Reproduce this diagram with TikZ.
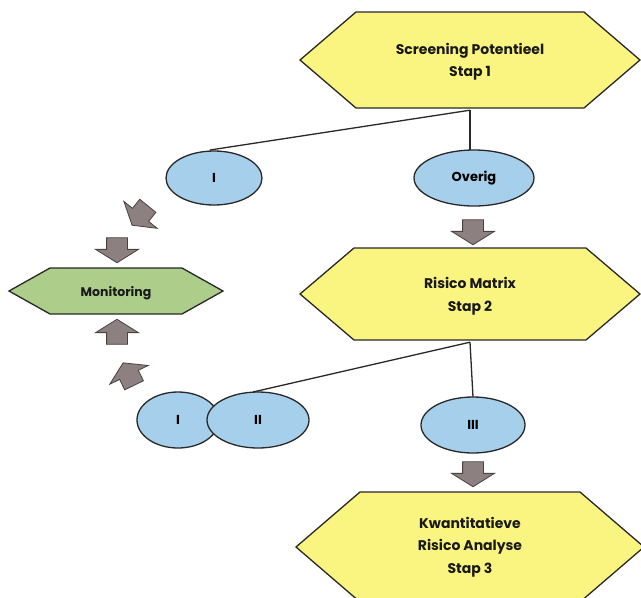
\documentclass[tikz,border=0pt]{standalone}
\usepackage{fontspec}
\setmainfont{Poppins}
\usetikzlibrary{shapes.arrows,shapes.geometric}

\definecolor{stapgeel}{RGB}{250,245,128}
\definecolor{monigroen}{RGB}{172,206,138}
\definecolor{klasseblauw}{RGB}{166,207,236}
\definecolor{pijlgrijs}{RGB}{140,128,128}
\definecolor{pijlrand}{RGB}{75,65,65}
\definecolor{rand}{RGB}{40,40,40}

% hexagon outline: x, y, half width, half height, inset, style
\newcommand{\hexvorm}[6]{%
  \filldraw[#6] ({#1-#3},#2) -- ({#1-#3+#5},{#2-#4}) -- ({#1+#3-#5},{#2-#4})
    -- ({#1+#3},#2) -- ({#1+#3-#5},{#2+#4}) -- ({#1-#3+#5},{#2+#4}) -- cycle;}

\begin{document}
\begin{tikzpicture}[x=1pt, y=-1pt,
    hexrand/.style={draw=rand, line width=1.3pt},
    stapnode/.style={align=center, inner sep=0pt, text=black!90,
      font=\bfseries\fontsize{14}{22.5}\selectfont},
    klasse/.style={ellipse, draw=rand, line width=1.3pt, fill=klasseblauw, inner sep=0pt,
      font=\bfseries\fontsize{13}{15}\selectfont},
    blokpijl/.style={single arrow, draw=pijlrand, fill=pijlgrijs, line width=0.8pt,
      inner sep=0pt, minimum height=25, minimum width=42,
      single arrow head extend=11, single arrow tip angle=116},
    lijn/.style={draw=rand, line width=1.3pt}
    ]
    \path[use as bounding box] (0,0) rectangle (641,598);
    \clip (0,0) rectangle (641,598);

    %Hexagons
    \hexvorm{470}{60}{170}{48}{56}{hexrand, fill=stapgeel}
    \hexvorm{470}{294}{170}{46}{54}{hexrand, fill=stapgeel}
    \hexvorm{470}{547}{174}{55}{64}{hexrand, fill=stapgeel}
    \hexvorm{116}{291}{107}{23}{41}{hexrand, fill=monigroen}

    \node[stapnode, minimum height=96] (stap1) at (470,62) {Screening Potentieel\\Stap 1};
    \node[stapnode, minimum height=92] (stap2) at (470,296) {Risico Matrix\\Stap 2};
    \node[stapnode, minimum height=110] (stap3) at (470,547) {Kwantitatieve\\Risico Analyse\\Stap 3};
    \node[stapnode, font=\bfseries\fontsize{12.5}{15}\selectfont] (moni) at (116,293) {Monitoring};

    %Lines
    \draw[lijn] (stap1.south) -- (470,150);
    \draw[lijn] (stap1.south) -- (210,150);
    \draw[lijn] (stap2.south) -- (473,397);
    \draw[lijn] (stap2.south) -- (253,392);

    %Ellipses
    \node[klasse, minimum width=96, minimum height=54] (een) at (214,178) {I};
    \node[klasse, minimum width=120, minimum height=56] (overig) at (474,178) {Overig};
    \node[klasse, minimum width=82, minimum height=56] (eenb) at (178,420) {I};
    \node[klasse, minimum width=102, minimum height=56] (twee) at (258,420) {II};
    \node[klasse, minimum width=104, minimum height=56] (drie) at (473,425) {III};

    %Block arrows
    \node[blokpijl, rotate=231] (p1) at (142,213) {\rule{0pt}{20pt}};
    \node[blokpijl, rotate=-90] (p2) at (117,247) {\rule{0pt}{20pt}};
    \node[blokpijl, rotate=90] (p3) at (117,335) {\rule{0pt}{20pt}};
    \node[blokpijl, rotate=116] (p4) at (130,377) {\rule{0pt}{20pt}};
    \node[blokpijl, rotate=-90] (p5) at (473,229) {\rule{0pt}{20pt}};
    \node[blokpijl, rotate=-90] (p6) at (473,471) {\rule{0pt}{20pt}};
\end{tikzpicture}
\end{document}
